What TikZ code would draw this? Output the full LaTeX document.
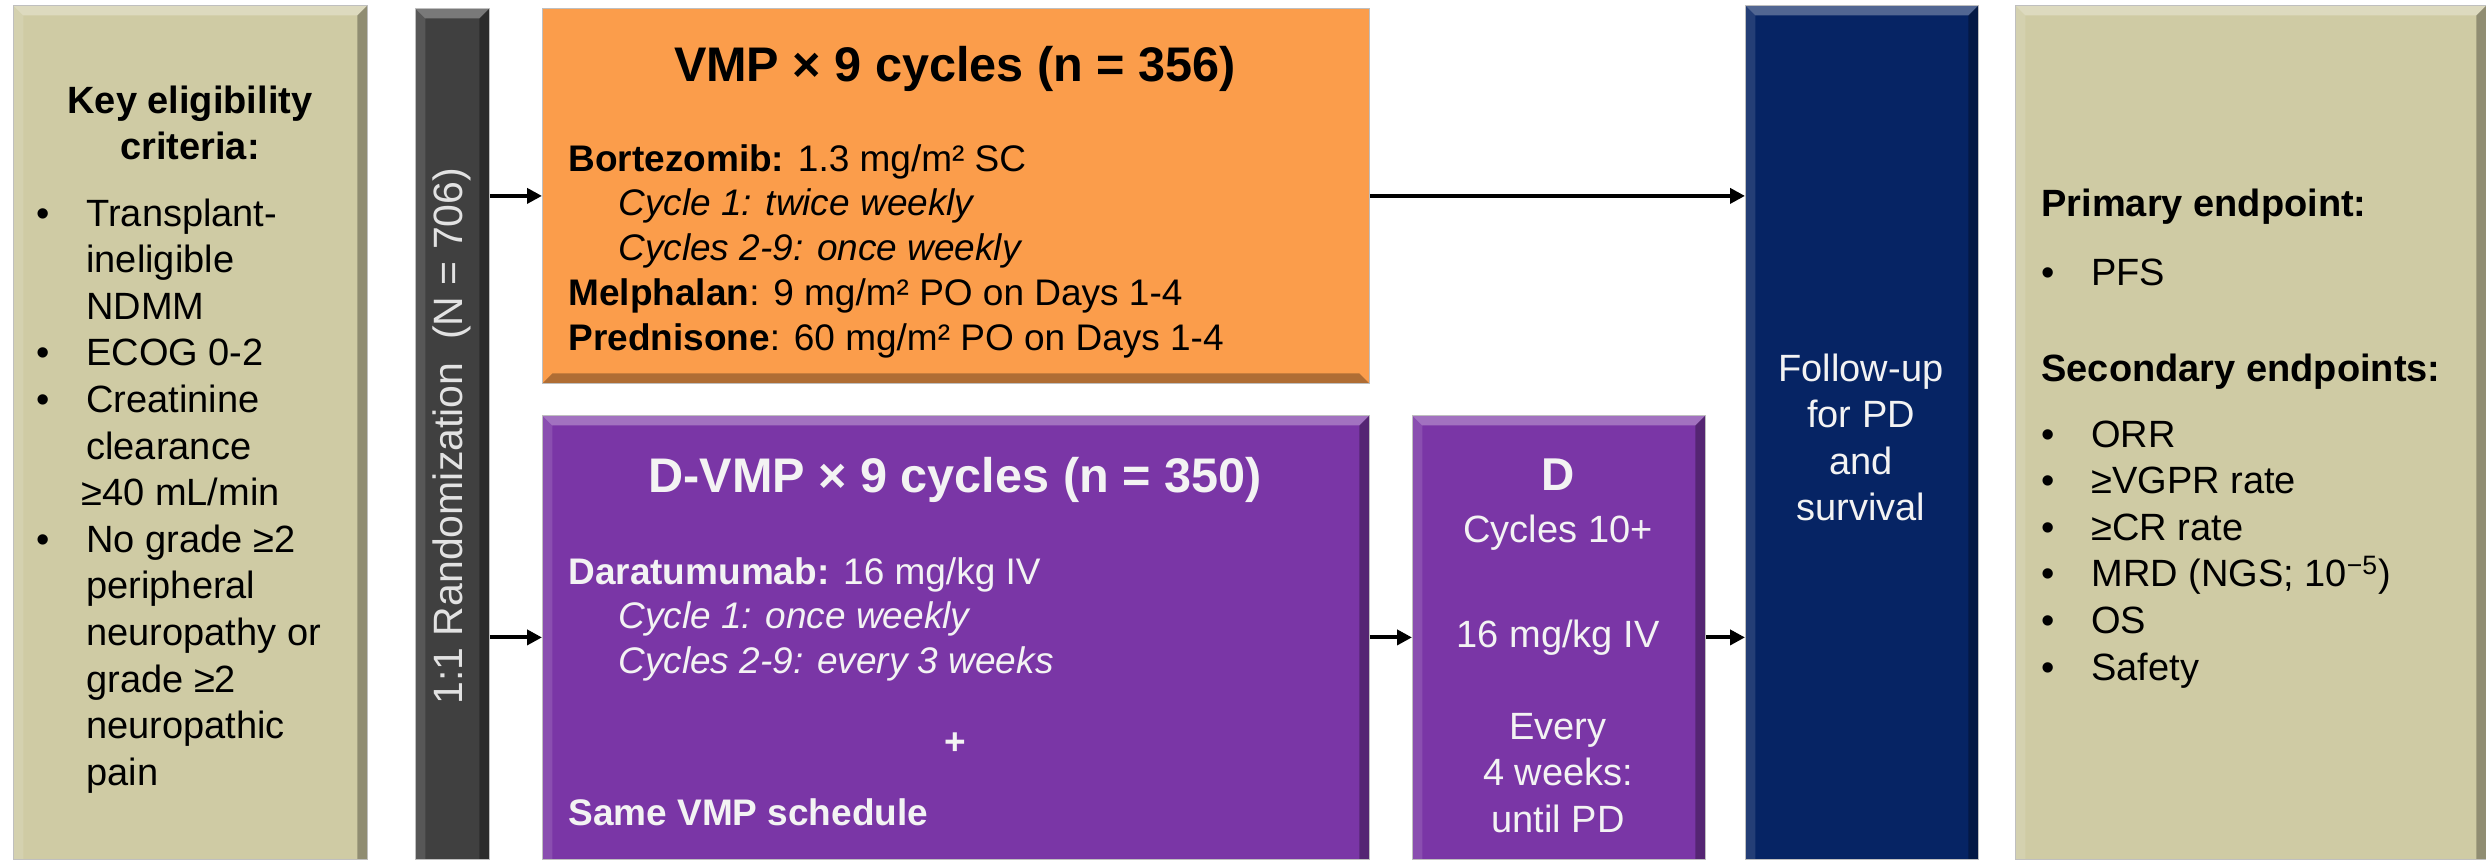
\documentclass[tikz,border=0pt]{standalone}
\usepackage{fontspec}
\setmainfont{Liberation Sans}
\usetikzlibrary{arrows.meta, positioning}

\definecolor{tanbox}{RGB}{207,203,164}
\definecolor{bargray}{RGB}{64,64,64}
\definecolor{bartext}{RGB}{226,226,226}
\definecolor{vmporange}{RGB}{251,157,75}
\definecolor{dpurple}{RGB}{122,54,166}
\definecolor{funavy}{RGB}{6,36,100}
\definecolor{paletext}{RGB}{243,243,243}

\newcommand{\boxfont}{\fontsize{19}{23.3}\selectfont}
\newcommand{\barfont}{\fontsize{20.5}{24}\selectfont}
\newcommand{\armfont}{\fontsize{18.5}{22.4}\selectfont}
\newcommand{\armtitle}{\fontsize{24.3}{28}\selectfont\bfseries}
\newcommand{\bul}{\makebox[25pt][l]{\textbullet}}
\newcommand{\ind}{\hspace*{25pt}}

\begin{document}
\begin{tikzpicture}[x=0.5pt,y=-0.5pt,>={Triangle[length=7.5pt,width=7.5pt]}]
  \tikzstyle{bevel} = [path picture={
      \fill[white,fill opacity=0.3]
        (path picture bounding box.north west) -- (path picture bounding box.north east)
        -- ([shift={(-5pt,-5pt)}]path picture bounding box.north east)
        -- ([shift={(5pt,-5pt)}]path picture bounding box.north west) -- cycle;
      \fill[white,fill opacity=0.12]
        (path picture bounding box.north west) -- ([shift={(5pt,-5pt)}]path picture bounding box.north west)
        -- ([shift={(5pt,0pt)}]path picture bounding box.south west)
        -- (path picture bounding box.south west) -- cycle;
      \fill[black,fill opacity=0.3]
        (path picture bounding box.north east) -- (path picture bounding box.south east)
        -- ([shift={(-5pt,0pt)}]path picture bounding box.south east)
        -- ([shift={(-5pt,-5pt)}]path picture bounding box.north east) -- cycle;
    }]
  \tikzstyle{bevelb} = [path picture={
      \fill[black,fill opacity=0.3]
        (path picture bounding box.south west) -- (path picture bounding box.south east)
        -- ([shift={(-5pt,5pt)}]path picture bounding box.south east)
        -- ([shift={(5pt,5pt)}]path picture bounding box.south west) -- cycle;
    }]
  \tikzstyle{slab} = [rectangle, inner sep=0pt, anchor=north west, draw=black!25,
                      line width=0.4pt, bevel]
  \tikzstyle{txt} = [inner sep=0pt]
  \tikzstyle{flow} = [->, line width=2pt]

  \clip (0,0) rectangle (2486,859);

  % boxes
  \node [slab, fill=tanbox, minimum width=177pt, minimum height=427pt] (crit) at (13,5) {};
  \node [slab, fill=bargray, minimum width=37pt, minimum height=425.5pt] (rand) at (415,8) {};
  \node [slab, fill=vmporange, bevelb, minimum width=413.5pt, minimum height=187.5pt] (vmp) at (542,8) {};
  \node [slab, fill=dpurple, minimum width=413.5pt, minimum height=222pt] (dvmp) at (542,415) {};
  \node [slab, fill=dpurple, minimum width=146.5pt, minimum height=222pt] (dmono) at (1412,415) {};
  \node [slab, fill=funavy, minimum width=116.5pt, minimum height=427pt] (follow) at (1745,5) {};
  \node [slab, fill=tanbox, minimum width=235.5pt, minimum height=427pt] (endp) at (2015,5) {};

  % eligibility
  \node [txt, anchor=base, font=\boxfont\bfseries] (crithead) at (190,113)
    {\begin{tabular}[t]{@{}c@{}}Key eligibility\\criteria:\end{tabular}};
  \node [txt, anchor=base west, font=\boxfont] (critlist) at (36,226)
    {\begin{tabular}[t]{@{}l@{}}
      \bul Transplant-\\ \ind ineligible\\ \ind NDMM\\
      \bul ECOG 0-2\\
      \bul Creatinine\\ \ind clearance\\ \hspace*{22.5pt}≥40 mL/min\\
      \bul No grade ≥2\\ \ind peripheral\\ \ind neuropathy or\\ \ind grade ≥2\\
      \ind neuropathic\\ \ind pain
    \end{tabular}};

  % randomization bar
  \node [txt, rotate=90, text=bartext, font=\barfont] (randlbl) at (452,436)
    {1:1 Randomization\ \ (N = 706)};

  % VMP arm
  \node [txt, anchor=base, font=\armtitle] (vmptitle) at (955,81) {VMP × 9 cycles (n = 356)};
  \node [txt, anchor=base west, font=\armfont] (vmpbody) at (568,171)
    {\begin{tabular}[t]{@{}l@{}}
      \textbf{Bortezomib:} 1.3 mg/m² SC\\
      \ind\textit{Cycle 1: twice weekly}\\
      \ind\textit{Cycles 2-9: once weekly}\\
      \textbf{Melphalan}: 9 mg/m² PO on Days 1-4\\
      \textbf{Prednisone}: 60 mg/m² PO on Days 1-4
    \end{tabular}};

  % D-VMP arm
  \node [txt, anchor=base, text=paletext, font=\armtitle] (dvmptitle) at (955,492)
    {D-VMP × 9 cycles (n = 350)};
  \node [txt, anchor=base west, text=paletext, font=\armfont] (dvmpbody) at (568,584)
    {\begin{tabular}[t]{@{}l@{}}
      \textbf{Daratumumab:} 16 mg/kg IV\\
      \ind\textit{Cycle 1: once weekly}\\
      \ind\textit{Cycles 2-9: every 3 weeks}
    \end{tabular}};
  \node [txt, anchor=base, text=paletext, font=\armfont\bfseries] (plus) at (955,754) {+};
  \node [txt, anchor=base west, text=paletext, font=\armfont\bfseries] (samevmp) at (568,825)
    {Same VMP schedule};

  % D maintenance
  \node [txt, anchor=base, text=paletext, font=\boxfont] (dmonotext) at (1558,490)
    {\begin{tabular}[t]{@{}c@{}}
      {\fontsize{23}{23.3}\selectfont\bfseries D}\\[2.7pt]
      Cycles 10+\\[29.2pt]
      16 mg/kg IV\\[22.7pt]
      Every\\ 4 weeks:\\ until PD
    \end{tabular}};

  % follow-up
  \node [txt, anchor=base, text=paletext, font=\boxfont] (followtext) at (1861,381)
    {\begin{tabular}[t]{@{}c@{}}Follow-up\\for PD\\and\\survival\end{tabular}};

  % endpoints
  \node [txt, anchor=base west, font=\boxfont] (endptext) at (2041,216)
    {\begin{tabular}[t]{@{}l@{}}
      \textbf{Primary endpoint:}\\[11.2pt]
      \bul PFS\\[24.7pt]
      \textbf{Secondary endpoints:}\\[9.7pt]
      \bul ORR\\ \bul ≥VGPR rate\\ \bul ≥CR rate\\
      \bul MRD (NGS; 10\textsuperscript{−5})\\ \bul OS\\ \bul Safety
    \end{tabular}};

  % arrows
  \draw [flow] (rand.east |- vmp.west) -- (vmp.west);
  \draw [flow] (rand.east |- dvmp.west) -- (dvmp.west);
  \draw [flow] (vmp.east) -- (vmp.east -| follow.west);
  \draw [flow] (dvmp.east) -- (dmono.west);
  \draw [flow] (dmono.east) -- (dmono.east -| follow.west);
\end{tikzpicture}
\end{document}
